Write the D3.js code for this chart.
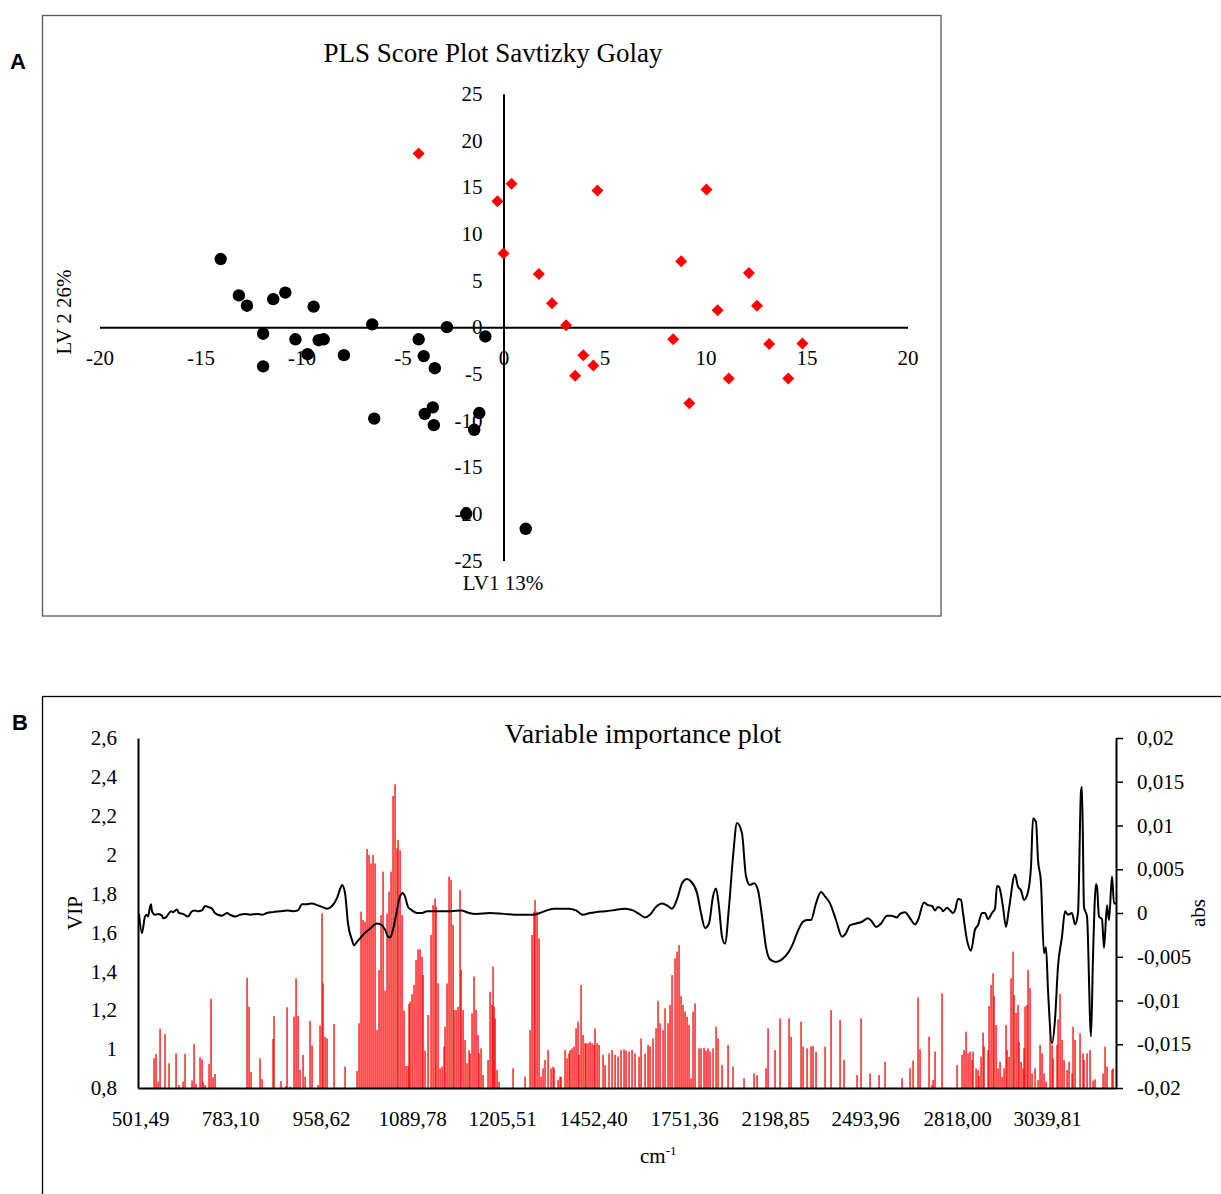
<!DOCTYPE html>
<html><head><meta charset="utf-8">
<script src="https://cdn.jsdelivr.net/npm/d3@7"></script>
<style>
body{margin:0;background:#fff}
svg{display:block}
</style>
</head><body>
<svg id="chart" width="1221" height="1194"></svg>
<script>
// ---------- Panel A data: PLS scores (LV1, LV2) ----------
const blackScores = [
  [-14.0,7.3],[-13.1,3.4],[-12.7,2.3],[-11.4,3.0],[-10.8,3.7],[-9.4,2.2],[-11.9,-0.7],[-10.3,-1.3],
  [-9.15,-1.4],[-8.9,-1.3],[-9.7,-2.9],[-11.9,-4.2],[-7.9,-3.0],[-6.5,0.3],[-4.2,-1.3],[-3.95,-3.1],
  [-3.4,-4.4],[-2.8,0.0],[-0.9,-1.0],[-6.4,-9.8],[-3.5,-8.6],[-3.9,-9.3],[-3.45,-10.5],[-1.2,-9.2],
  [-1.45,-11.0],[-1.85,-20.0],[1.1,-21.6]
];
const redScores = [
  [-4.2,18.6],[-0.3,13.5],[0.4,15.35],[4.65,14.65],[10.05,14.75],[0.0,7.9],[1.75,5.7],[2.4,2.55],
  [3.1,0.2],[3.95,-3.0],[4.45,-4.1],[3.55,-5.2],[8.8,7.05],[12.15,5.8],[10.6,1.8],[12.55,2.3],
  [8.4,-1.3],[13.15,-1.8],[14.8,-1.75],[11.15,-5.5],[14.1,-5.5],[9.2,-8.15]
];
const scoreXTicks = [-20,-15,-10,-5,0,5,10,15,20];
const scoreYTicks = [-25,-20,-15,-10,-5,0,5,10,15,20,25];

// ---------- Panel B data: VIP bars and spectrum line over variable index ----------
const wavenumberLabels = ["501,49","783,10","958,62","1089,78","1205,51","1452,40","1751,36","2198,85","2493,96","2818,00","3039,81"];
const wavenumberLabelVariable = [2,92,183,274,364,455,546,637,727,819,909];
const vipTicks = [0.8,1,1.2,1.4,1.6,1.8,2,2.2,2.4,2.6];
const absTicks = [-0.02,-0.015,-0.01,-0.005,0,0.005,0.01,0.015,0.02];

const vipVariable = [
  16,18,20,22,27,31,38,41,45,47,54,56,58,62,64,65,67,71,73,75,77,109,111,113,122,124,135,136,143,148,
  149,152,156,158,160,162,165,167,172,174,180,182,184,185,187,189,196,207,219,221,223,225,227,229,231,233,235,237,239,241,
  243,245,247,249,251,253,255,257,259,260,262,264,266,268,270,271,272,274,276,278,280,282,284,285,287,290,
  293,295,297,298,300,302,304,306,307,309,311,313,315,316,318,320,322,323,325,327,329,331,332,334,336,338,340,341,343,345,
  350,352,354,355,356,357,359,361,375,387,392,394,396,397,399,401,403,405,407,410,413,415,416,420,422,423,427,429,431,432,
  434,436,438,440,441,443,445,447,448,450,452,454,456,457,459,461,
  465,467,471,474,477,480,483,486,488,491,494,497,501,503,507,510,512,515,518,520,522,525,527,530,532,534,537,539,541,543,
  545,547,549,551,553,555,557,561,563,566,568,570,572,575,578,580,584,590,595,606,616,619,628,630,637,642,651,653,663,665,
  669,673,675,678,687,693,702,706,719,723,732,741,747,
  764,772,775,780,782,791,794,795,797,804,819,824,826,828,830,832,834,835,838,840,841,843,845,846,850,851,853,855,856,858,
  860,862,864,866,868,869,871,873,875,876,878,880,881,883,885,886,887,889,890,892,894,897,900,902,904,906,908,912,914,915,
  919,920,922,924,926,929,931,934,935,937,942,945,946,949,952,955,957,965,967,969,974,975
];
const vipValue = [
  0.953,0.975,0.833,1.105,1.078,0.927,0.978,0.815,0.833,0.975,0.838,1.026,0.821,0.958,0.947,0.833,0.815,0.923,1.258,0.855,
  0.872,1.367,1.218,0.882,0.953,0.845,1.052,1.170,0.836,0.810,1.215,0.807,1.167,1.364,1.170,0.893,0.970,0.858,1.145,1.018,
  0.815,1.121,1.698,1.338,1.064,1.055,1.129,0.910,0.887,1.133,1.707,1.664,1.655,2.029,1.998,1.955,1.998,1.955,1.098,1.407,
  1.690,1.913,1.301,1.698,1.810,1.913,2.302,2.362,2.033,2.076,2.024,1.690,1.198,0.913,0.913,1.232,1.244,1.283,1.330,1.458,
  1.513,1.513,1.475,1.381,0.992,1.175,
  1.587,1.741,1.775,1.733,1.338,0.901,0.910,1.013,1.115,1.338,1.887,1.870,1.638,1.201,1.201,1.218,1.818,1.407,1.201,1.047,
  0.927,0.995,0.978,1.184,1.373,1.201,1.073,0.978,1.004,0.867,0.944,1.295,1.227,1.424,1.218,1.158,0.893,0.833,0.901,0.858,
  1.098,1.587,1.707,1.767,1.707,1.570,0.858,0.901,0.944,0.995,0.901,0.910,0.901,0.841,0.858,0.858,0.995,0.953,0.978,0.995,
  1.004,1.013,1.107,1.141,0.970,1.330,1.073,1.030,1.030,1.030,1.038,1.030,1.021,1.107,1.030,1.021,
  0.970,0.918,0.978,0.995,0.970,0.961,0.995,0.999,0.992,0.987,0.995,0.978,0.961,1.055,0.978,1.021,1.013,1.055,1.107,1.247,
  1.133,1.098,1.210,1.133,1.227,1.381,1.467,1.501,1.535,1.273,1.227,1.193,1.167,1.124,0.850,1.193,1.235,1.004,1.004,1.007,
  0.992,1.004,0.987,1.004,1.115,1.055,0.918,1.021,0.910,0.850,0.875,0.867,0.901,1.107,0.995,1.158,1.158,1.064,1.141,1.013,
  1.004,1.013,1.016,0.987,1.013,1.201,1.150,0.944,0.867,1.158,0.875,0.867,0.935,
  0.850,0.901,0.941,1.266,0.999,1.064,0.815,0.841,0.987,1.287,0.918,0.970,0.995,1.090,0.978,0.987,0.944,0.987,0.901,0.893,
  0.862,0.961,1.085,1.013,0.995,1.222,1.330,1.390,1.273,1.124,0.901,0.935,0.858,0.901,1.124,0.995,0.961,1.364,1.501,1.278,
  1.187,1.227,1.038,0.935,0.901,1.004,1.218,1.227,1.407,1.313,0.875,0.901,0.841,1.021,0.978,0.875,0.833,1.133,1.021,0.953,
  1.021,1.153,1.283,1.047,0.944,0.893,0.935,0.875,1.115,1.047,1.081,0.978,0.944,0.978,0.995,0.838,0.845,0.875,1.013,0.910,
  0.893,0.901
];

const absVariable = [
  1,4,7,9,10,12,13,14,17,20, 24,25,28,30,33,35,39,41,45,50, 54,57,60,64,67,70,74,77,80,84,
  89,92,97,102,107,112,119,124,129,135, 142,149,155,160,164,169,174,179,184,189, 194,199,203,204,207,210,214,216,219,222,
  225,232,239,244,247,250,252,255,259,262, 265,267,270,274,279,284,289,295,313,323, 331,338,352,366,381,395,402,409,416,431,
  438,445,452,458,467,475,487,495,501,507, 512,518,524,530,534,540,544,549,553,559, 563,567,571,575,578,581,584,587,591,595,
  599,604,608,612,616,620,624,628,632,638, 644,651,655,659,665,669,673,678,683,687, 692,698,704,708,712,718,724,730,734,738,
  743,749,753,759,762,767,772,777,780,786, 790,794,797,800,804,805,809,812,815,817, 820,823,825,829,833,837,840,844,847,850,
  854,857,859,861,865,868,871,877,880,883, 886,890,893,895,898,900,903,906,908,910, 914,917,920,924,927,930,934,937,940,943,
  944,946,949,953,955,958,959,961,964,966, 969,971,974,976,978
];
const absValue = [
  -0.0001,-0.0023,-0.0004,-0.0002,-0.0004,0.0007,0.001,0.0002,-0.0002,-0.0001,
  -0.0003,-0.0006,-0.0005,-0.0002,0.0002,0.0001,0.0004,0.0,-0.0001,-0.0004,
  0.0002,0.0003,0.0002,0.0003,0.0008,0.0007,0.0005,0.0,-0.0002,-0.0003,
  0.0,-0.0002,-0.0004,-0.0002,-0.0001,-0.0002,-0.0001,-0.0002,0.0,0.0001,
  0.0002,0.0003,0.0002,0.0003,0.001,0.001,0.0011,0.0009,0.0007,0.0005,
  0.0008,0.0017,0.003,0.0032,0.0023,-0.0012,-0.0031,-0.0037,-0.0033,-0.0029,
  -0.0025,-0.0018,-0.0012,-0.0014,-0.0019,-0.0027,-0.0028,-0.0019,0.0003,0.0019,
  0.0023,0.0019,0.0007,0.0003,0.0,0.0,0.0002,0.0002,0.0002,0.0003,
  0.0,-0.0001,0.0,-0.0001,-0.0002,-0.0002,0.0,0.0003,0.0005,0.0005,
  0.0003,-0.0002,0.0,0.0001,0.0002,0.0003,0.0005,0.0003,-0.0001,-0.0005,
  -0.0002,0.0007,0.0011,0.0008,0.0005,0.0019,0.0034,0.0039,0.0036,0.0023,
  0.0,-0.0017,-0.0012,0.0019,0.0028,0.0007,-0.0027,-0.0035,0.0007,0.0064,
  0.0103,0.0091,0.0042,0.0032,0.0034,0.0026,-0.0004,-0.0039,-0.0053,-0.0056,
  -0.0053,-0.0044,-0.0035,-0.0023,-0.001,-0.0008,-0.0008,0.0011,0.0024,0.0019,
  0.0011,-0.0008,-0.0027,-0.0023,-0.0014,-0.0012,-0.001,-0.0006,-0.001,-0.0016,
  -0.0012,-0.0003,-0.0003,-0.0005,-0.0001,0.0001,-0.0006,-0.0013,-0.0008,0.0012,
  0.0009,0.0008,0.0003,0.0007,0.0004,0.0002,0.0006,0.0003,0.0,0.0003,
  0.0016,0.0015,0.0,-0.0031,-0.0043,-0.0019,-0.0014,0.0,0.0,-0.0007,
  0.0,0.0005,0.0031,0.003,0.0007,-0.0016,0.0005,0.0044,0.003,0.0026,
  0.0015,0.0024,0.0053,0.0108,0.0104,0.0061,0.0034,-0.0046,-0.0039,-0.0088,
  -0.0149,-0.0122,-0.0061,-0.0027,0.0002,-0.0002,0.0,-0.0013,0.0,0.0139,
  0.0144,0.0007,-0.0004,-0.0141,-0.005,0.0033,0.003,-0.0004,-0.0007,-0.004,
  0.0009,-0.0008,0.0042,0.0011,0.0011
];

// ---------- drawing ----------
const SERIF = '"Liberation Serif","Times New Roman",serif';
const SANS = '"Liberation Sans",Arial,sans-serif';
const svg = d3.select('#chart');
svg.append('rect').attr('width',1221).attr('height',1194).attr('fill','#fff');
const comma = v => String(+v.toFixed(4)).replace('.', ',');

function styleAxis(g, size){
  g.attr('font-family', SERIF).attr('font-size', size);
  g.selectAll('text').attr('fill','#000');
  g.select('.domain').attr('stroke','#000').attr('stroke-width',2);
  g.selectAll('.tick line').attr('stroke','#000').attr('stroke-width',1.5);
}

// ===== Panel A =====
svg.append('rect').attr('x',42.5).attr('y',15.5).attr('width',898.5).attr('height',600.5)
  .attr('fill','none').attr('stroke','#595959').attr('stroke-width',1.3);
svg.append('text').attr('x',10).attr('y',69).attr('font-family',SANS).attr('font-weight','bold')
  .attr('font-size',22).text('A');

const xA = d3.scaleLinear().domain([-20,20]).range([99.5,907.5]);
const yA = d3.scaleLinear().domain([-25,25]).range([560.5,93.8]);

svg.append('text').attr('x',493).attr('y',62).attr('text-anchor','middle')
  .attr('font-family',SERIF).attr('font-size',27).text('PLS Score Plot Savtizky Golay');

const gxA = svg.append('g').attr('transform',`translate(0,${yA(0)})`)
  .call(d3.axisBottom(xA).tickValues(scoreXTicks).tickSize(0).tickSizeOuter(0).tickPadding(23).tickFormat(d=>String(d)));
styleAxis(gxA, 21);
const gyA = svg.append('g').attr('transform',`translate(${xA(0)},0)`)
  .call(d3.axisLeft(yA).tickValues(scoreYTicks).tickSize(0).tickSizeOuter(0).tickPadding(21).tickFormat(d=>String(d)));
styleAxis(gyA, 21);

svg.append('text').attr('transform','translate(71,312) rotate(-90)').attr('text-anchor','middle')
  .attr('font-family',SERIF).attr('font-size',21).text('LV 2 26%');
svg.append('text').attr('x',503).attr('y',590).attr('text-anchor','middle')
  .attr('font-family',SERIF).attr('font-size',21).text('LV1 13%');

svg.append('g').selectAll('circle').data(blackScores).join('circle')
  .attr('cx',d=>xA(d[0])).attr('cy',d=>yA(d[1])).attr('r',6.2).attr('fill','#000');
const diamond = d3.symbol().type(d3.symbolSquare).size(72);
svg.append('g').selectAll('path').data(redScores).join('path')
  .attr('d',diamond).attr('fill','#ff0000')
  .attr('transform',d=>`translate(${xA(d[0])},${yA(d[1])}) rotate(45)`);

// ===== Panel B =====
svg.append('rect').attr('x',42.5).attr('y',696.5).attr('width',1250).attr('height',600)
  .attr('fill','none').attr('stroke','#000').attr('stroke-width',1.3);
svg.append('text').attr('x',12).attr('y',730).attr('font-family',SANS).attr('font-weight','bold')
  .attr('font-size',22).text('B');

const xB = d3.scaleLinear().domain([0,978]).range([138,1116]);
const yVip = d3.scaleLinear().domain([0.8,2.6]).range([1088,738]);
const yAbs = d3.scaleLinear().domain([-0.02,0.02]).range([1088,738]);

svg.append('text').attr('x',643).attr('y',743).attr('text-anchor','middle')
  .attr('font-family',SERIF).attr('font-size',28).text('Variable importance plot');

const bars = vipVariable.map((v,i)=>({v:v, val:vipValue[i]}));
svg.append('g').selectAll('rect').data(bars).join('rect')
  .attr('x',d=>xB(d.v)-0.6).attr('width',1.3)
  .attr('y',d=>yVip(d.val)).attr('height',d=>yVip(0.8)-yVip(d.val))
  .attr('fill','#ff0000');

const linePts = absVariable.map((v,i)=>[v, absValue[i]]);
svg.append('path').datum(linePts)
  .attr('d', d3.line().x(d=>xB(d[0])).y(d=>yAbs(d[1])).curve(d3.curveMonotoneX))
  .attr('fill','none').attr('stroke','#000').attr('stroke-width',2).attr('stroke-linejoin','round');

const gyL = svg.append('g').attr('transform','translate(138,0)')
  .call(d3.axisLeft(yVip).tickValues(vipTicks).tickSize(0).tickSizeOuter(0).tickPadding(21).tickFormat(comma));
styleAxis(gyL, 21);
const gyR = svg.append('g').attr('transform','translate(1116,0)')
  .call(d3.axisRight(yAbs).tickValues(absTicks).tickSize(7).tickSizeOuter(0).tickPadding(14).tickFormat(comma));
styleAxis(gyR, 21);
const gxB = svg.append('g').attr('transform','translate(0,1088)')
  .call(d3.axisBottom(xB).tickValues(wavenumberLabelVariable).tickSize(0).tickSizeOuter(0).tickPadding(23)
    .tickFormat((d,i)=>wavenumberLabels[i]));
styleAxis(gxB, 21);

svg.append('text').attr('transform','translate(82,913) rotate(-90)').attr('text-anchor','middle')
  .attr('font-family',SERIF).attr('font-size',21).text('VIP');
svg.append('text').attr('transform','translate(1205,913) rotate(-90)').attr('text-anchor','middle')
  .attr('font-family',SERIF).attr('font-size',21).text('abs');
const cm = svg.append('text').attr('x',640).attr('y',1163).attr('font-family',SERIF).attr('font-size',21);
cm.append('tspan').text('cm');
cm.append('tspan').attr('dy',-8).attr('font-size',13).text('-1');
</script>
</body></html>
